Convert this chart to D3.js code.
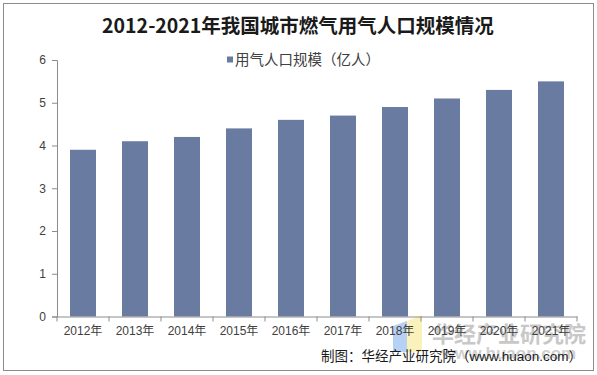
<!DOCTYPE html>
<html><head><meta charset="utf-8">
<script src="https://cdn.jsdelivr.net/npm/d3@7"></script>
<style>body{margin:0;background:#fff}svg{display:block}</style>
</head><body>
<svg id="c" width="597" height="375"></svg>
<script>
const categories = ["2012年","2013年","2014年","2015年","2016年","2017年","2018年","2019年","2020年","2021年"];
const values = [3.9,4.1,4.2,4.4,4.6,4.7,4.9,5.1,5.3,5.5];
const yTicks = [0,1,2,3,4,5,6];
const title = "2012-2021年我国城市燃气用气人口规模情况";
const seriesName = "用气人口规模（亿人）";
const source = "制图：华经产业研究院（www.huaon.com）";

const svg = d3.select("#c");
const font = "'Liberation Sans','Noto Sans CJK SC',sans-serif";
svg.append("rect").attr("x",3.5).attr("y",3.5).attr("width",590).attr("height",367)
  .attr("fill","#fff").attr("stroke","#8c8c8c").attr("stroke-width",1);

const x = d3.scaleBand().domain(categories).range([57,577]).paddingInner(0.5).paddingOuter(0.25);
const y = d3.scaleLinear().domain([0,6]).range([316.5,60]);

// watermark
const wm = svg.append("g");
wm.append("path").attr("d","M393,326 L407,321 L407,352 L393,352 Z").attr("fill","#a9c9f2").attr("opacity",0.85);
wm.append("path").attr("d","M407,321 L422,315 L422,352 L407,352 Z").attr("fill","#fbefb3").attr("opacity",0.9);
wm.append("text").attr("x",509).attr("y",342).attr("text-anchor","middle")
  .attr("font-family","'Noto Sans CJK SC',sans-serif").attr("font-weight","bold").attr("font-size",22)
  .attr("fill","#c8c8c8").text("华经产业研究院");
wm.append("text").attr("x",509).attr("y",359).attr("text-anchor","middle")
  .attr("font-family","'Liberation Sans',sans-serif").attr("font-weight","bold").attr("font-size",17)
  .attr("fill","#d0d0d0").text("www.huaon.com");

svg.append("g").selectAll("rect").data(values).join("rect")
  .attr("x",(d,i)=>x(categories[i])).attr("width",x.bandwidth())
  .attr("y",d=>y(d)).attr("height",d=>y(0)-y(d)).attr("fill","#6a7ba2");

const ya = svg.append("g").attr("transform","translate(57,0)")
  .call(d3.axisLeft(y).tickValues(yTicks).tickSize(5).tickPadding(6).tickFormat(d3.format("d")));
ya.selectAll("line,path").attr("stroke","#8c8c8c");
ya.selectAll("text").attr("font-family",font).attr("font-size",12).attr("fill","#404040");

const xa = svg.append("g").attr("transform","translate(0,316.5)")
  .call(d3.axisBottom(x).tickSize(0).tickPadding(10).tickSizeOuter(0));
xa.select("path").attr("stroke","#8c8c8c");
xa.selectAll("text").attr("font-family",font).attr("font-size",12).attr("fill","#404040");
const step = x.step();
const bounds = d3.range(categories.length+1).map(i=>57+i*step);
svg.append("g").selectAll("line").data(bounds).join("line")
  .attr("x1",d=>d).attr("x2",d=>d).attr("y1",316.5).attr("y2",321.5).attr("stroke","#8c8c8c");

svg.append("text").attr("x",298).attr("y",33).attr("text-anchor","middle")
  .attr("font-family","'Noto Sans CJK SC',serif").attr("font-weight","bold").attr("font-size",19.5)
  .attr("fill","#1a1a1a").text(title);

const lg = svg.append("g");
lg.append("rect").attr("x",227).attr("y",56.5).attr("width",6).attr("height",6).attr("fill","#6a7ba2");
lg.append("text").attr("x",235).attr("y",65).attr("font-family",font).attr("font-size",14.5)
  .attr("fill","#404040").text(seriesName);

svg.append("text").attr("x",582).attr("y",361).attr("text-anchor","end")
  .attr("font-family",font).attr("font-size",13.5).attr("fill","#1a1a1a").text(source);
</script>
</body></html>
